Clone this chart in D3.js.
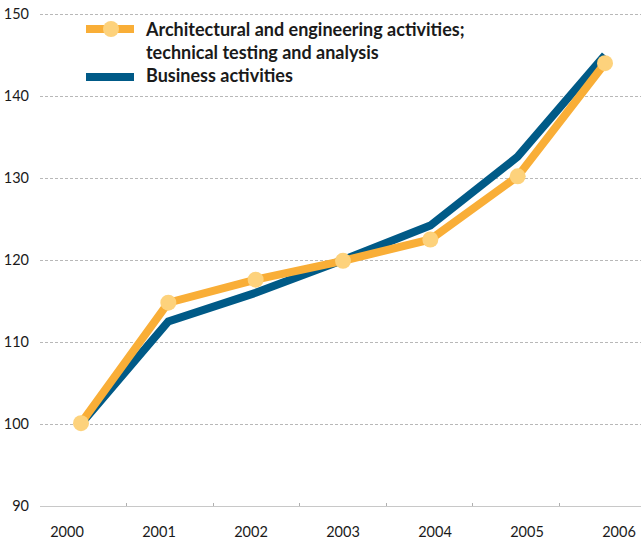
<!DOCTYPE html>
<html><head><meta charset="utf-8">
<script src="https://cdn.jsdelivr.net/npm/d3@7"></script>
<style>body{margin:0;background:#fff;}svg{display:block;font-family:Lato,"Noto Sans",sans-serif;}</style>
</head><body>
<svg id="c" width="641" height="542"></svg>
<script>
const years = ["2000","2001","2002","2003","2004","2005","2006"];
const architectural = [100.1, 114.8, 117.6, 119.9, 122.5, 130.2, 144.0];
const business = [100.0, 112.5, 116.0, 120.0, 124.2, 132.6, 145.0];
const yTicks = [90, 100, 110, 120, 130, 140, 150];
const legendLabels = [["Architectural and engineering activities;", "technical testing and analysis"], ["Business activities"]];

const orange = "#F9AE37", dot = "#FDD27C", blue = "#005A87";
const svg = d3.select("#c");
const y = d3.scaleLinear().domain([90, 150]).range([506, 14]);
const xPt = d3.scalePoint().domain(years).range([81, 605]);
const xLab = d3.scalePoint().domain(years).range([67, 619]);
const xBand = d3.scaleBand().domain(years).range([40, 646]);

// grid
svg.append("g").selectAll("line").data(yTicks.filter(v => v > 90)).join("line")
  .attr("x1", 40).attr("x2", 641).attr("y1", d => y(d)).attr("y2", d => y(d))
  .attr("stroke", "#b8b8b8").attr("stroke-width", 1).attr("stroke-dasharray", "3,2")
  .attr("shape-rendering", "crispEdges");
// baseline
svg.append("line").attr("x1", 40).attr("x2", 641).attr("y1", y(90)).attr("y2", y(90))
  .attr("stroke", "#c8c8c8").attr("stroke-width", 1).attr("shape-rendering", "crispEdges");
svg.append("g").selectAll("line").data(years.slice(1)).join("line")
  .attr("x1", d => xBand(d)).attr("x2", d => xBand(d)).attr("y1", y(90)).attr("y2", y(90) - 3)
  .attr("stroke", "#b0b0b0").attr("shape-rendering", "crispEdges");

// y labels
svg.append("g").selectAll("text").data(yTicks).join("text")
  .attr("x", 29).attr("y", d => y(d)).attr("dy", "0.35em").attr("text-anchor", "end")
  .attr("font-size", 14.5).attr("fill", "#1a1a1a").text(d => d);
// x labels
svg.append("g").selectAll("text").data(years).join("text")
  .attr("x", d => xLab(d)).attr("y", 537).attr("text-anchor", "middle")
  .attr("font-size", 14.5).attr("fill", "#1a1a1a").text(d => d);

const line = d3.line().x((d, i) => xPt(years[i])).y(d => y(d));
svg.append("path").datum(business).attr("d", line).attr("fill", "none")
  .attr("stroke", blue).attr("stroke-width", 8).attr("stroke-linejoin", "miter");
svg.append("path").datum(architectural).attr("d", line).attr("fill", "none")
  .attr("stroke", orange).attr("stroke-width", 8).attr("stroke-linejoin", "miter");
svg.append("g").selectAll("circle").data(architectural).join("circle")
  .attr("cx", (d, i) => xPt(years[i])).attr("cy", d => y(d)).attr("r", 8).attr("fill", dot);

// legend
const lg = svg.append("g");
lg.append("line").attr("x1", 86).attr("x2", 134).attr("y1", 29).attr("y2", 29).attr("stroke", orange).attr("stroke-width", 8);
lg.append("circle").attr("cx", 111).attr("cy", 29).attr("r", 8).attr("fill", dot);
lg.append("line").attr("x1", 86).attr("x2", 134).attr("y1", 77).attr("y2", 77).attr("stroke", blue).attr("stroke-width", 8);
const t1 = lg.append("text").attr("x", 146).attr("y", 36).attr("font-size", 18).attr("font-weight", "bold").attr("fill", "#1a1a1a");
legendLabels[0].forEach((s, i) => t1.append("tspan").attr("x", 146).attr("dy", i ? 23 : 0).text(s));
lg.append("text").attr("x", 146).attr("y", 82).attr("font-size", 18).attr("font-weight", "bold").attr("fill", "#1a1a1a").text(legendLabels[1][0]);
</script>
</body></html>
